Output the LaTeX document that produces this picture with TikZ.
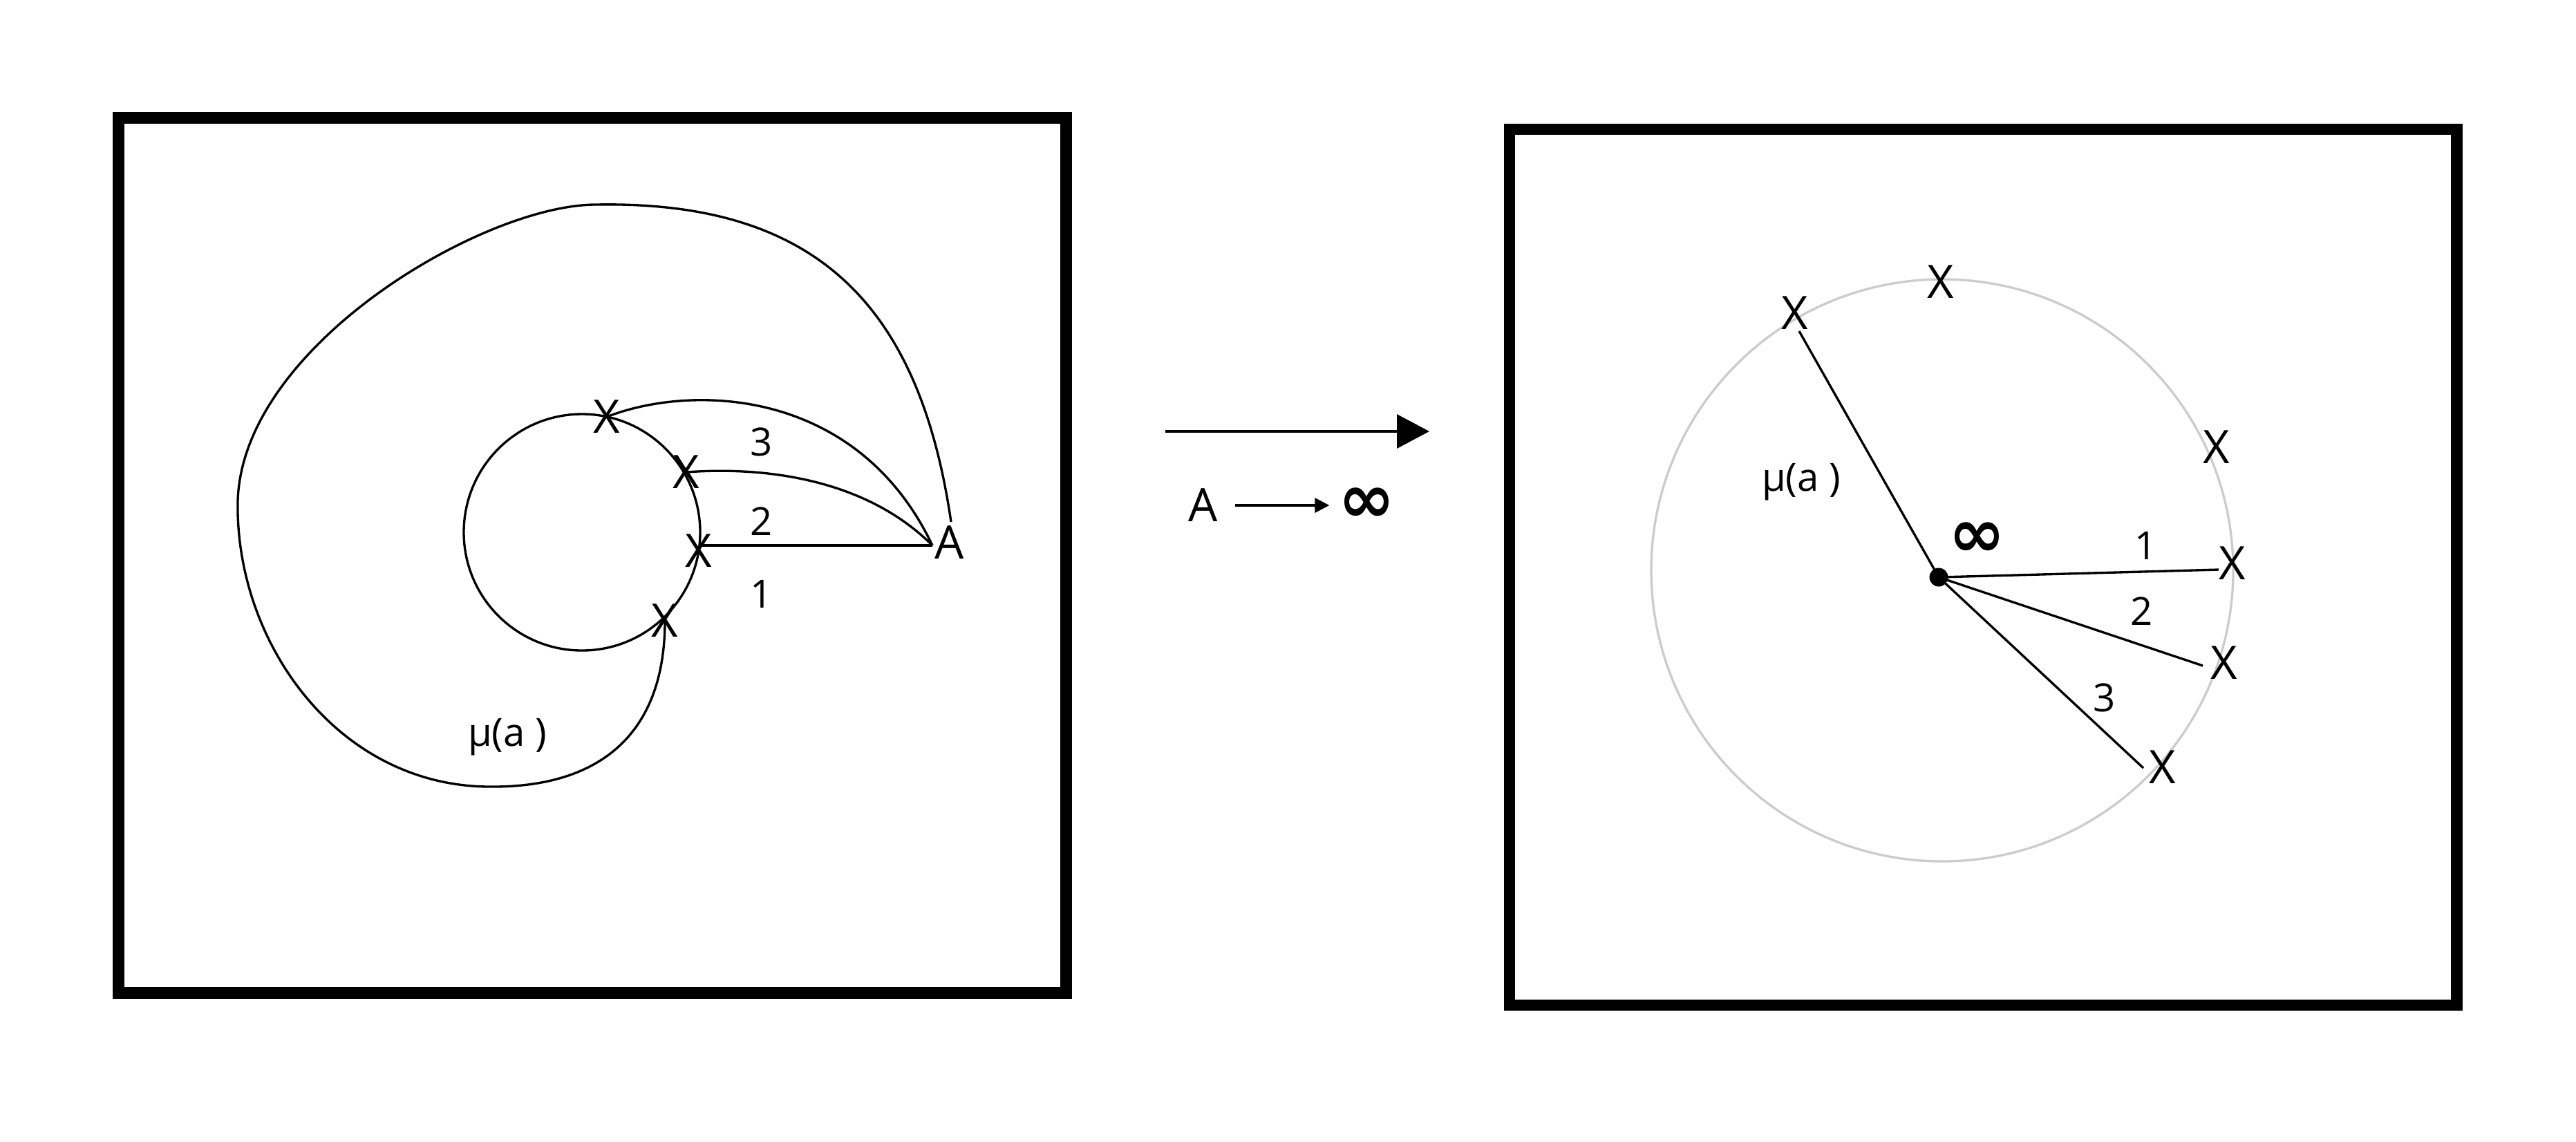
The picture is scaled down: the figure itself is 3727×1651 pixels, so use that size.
\documentclass[tikz,border=0pt]{standalone}
\usepackage{fontspec}
\setmainfont{Open Sans}
\newfontfamily\symfont{DejaVu Sans}
\usetikzlibrary{arrows.meta}

\begin{document}
\begin{tikzpicture}[x=0.1mm,y=-0.1mm,
  thin line/.style={line width=0.95pt},
  frame/.style={line width=4.7pt},
  cross node/.style={inner sep=0pt,font=\fontsize{19}{19}\selectfont},
  label node/.style={inner sep=0pt,font=\fontsize{16}{16}\selectfont},
  inf node/.style={inner sep=0pt,font=\symfont\bfseries\fontsize{28}{28}\selectfont}]
  \useasboundingbox (0,0) rectangle (3727,1651);
  \draw[frame] (171.5,170.5) rectangle (1542.5,1436.5);
  \draw[frame] (2184,187) rectangle (3554.5,1454);

  % left panel
  \coordinate (c_left) at (842,770);
  \draw[thin line] (c_left) circle[radius=17.1mm];
  \node[cross node] (x_one) at (878,603) {X};
  \node[cross node] (x_two) at (993,683) {X};
  \node[cross node] (x_three) at (1011,797) {X};
  \node[cross node] (x_four) at (962,898) {X};
  \node[cross node] (a_lbl) at (1374,785) {A};
  \coordinate (a_pt) at (1349,789);
  \coordinate (a_top) at (1376,755);
  \coordinate (l_start) at (1012,789);
  \draw[thin line] (l_start) -- (a_pt);
  \draw[thin line] (x_two.center) .. controls (1100,675) and (1250,690) .. (a_pt);
  \draw[thin line] (x_one.center) .. controls (1000,555) and (1240,560) .. (a_pt);
  \draw[thin line] (a_top) .. controls (1330,440) and (1180,290) .. (862,296)
    .. controls (700,296) and (350,500) .. (344,725)
    .. controls (340,930) and (490,1140) .. (713,1138)
    .. controls (870,1138) and (962,1060) .. (x_four.center);
  \node[label node] (lbl_3) at (1102,639) {3};
  \node[label node] (lbl_2) at (1102,754) {2};
  \node[label node] (lbl_1) at (1102,859) {1};
  \node[label node] (lbl_mu) at (734,1066) {μ(a )};

  % middle
  \coordinate (arr_start) at (1686,624);
  \coordinate (arr_end) at (2068,624);
  \draw[line width=1pt,-{Triangle[length=4.7mm,width=4.9mm]}] (arr_start) -- (arr_end);
  \node[cross node] (a_mid) at (1741,731) {A};
  \node[inf node] (inf_mid) at (1977,731) {∞};
  \draw[line width=1pt,-{Triangle[length=2.1mm,width=2.1mm]},shorten <=2.4mm,shorten >=1.2mm] (a_mid) -- (inf_mid);

  % right panel
  \draw[thin line,black!20] (2810,825) circle[radius=42.1mm];
  \node[circle,fill,inner sep=0pt,minimum size=2.7mm] (inf_pt) at (2805,835) {};
  \node[cross node] (r_mu) at (2597,453) {X};
  \node[cross node] (r_top) at (2808,408) {X};
  \node[cross node] (r_ur) at (3207,647) {X};
  \node[cross node] (r_one) at (3230,815) {X};
  \node[cross node] (r_two) at (3218,959) {X};
  \node[cross node] (r_three) at (3129,1110) {X};
  \coordinate (mu_end) at (2603,479);
  \coordinate (one_end) at (3210,824);
  \coordinate (two_end) at (3187,963);
  \coordinate (three_end) at (3101,1111);
  \path[thin line]
    (inf_pt.center) edge (mu_end)
    (inf_pt.center) edge (one_end)
    (inf_pt.center) edge (two_end)
    (inf_pt.center) edge (three_end);
  \node[inf node] (inf_r) at (2860,781) {∞};
  \node[label node] (r_lbl_1) at (3105,789) {1};
  \node[label node] (r_lbl_2) at (3099,884) {2};
  \node[label node] (r_lbl_3) at (3045,1009) {3};
  \node[label node] (r_lbl_mu) at (2606,697) {μ(a )};
\end{tikzpicture}
\end{document}
